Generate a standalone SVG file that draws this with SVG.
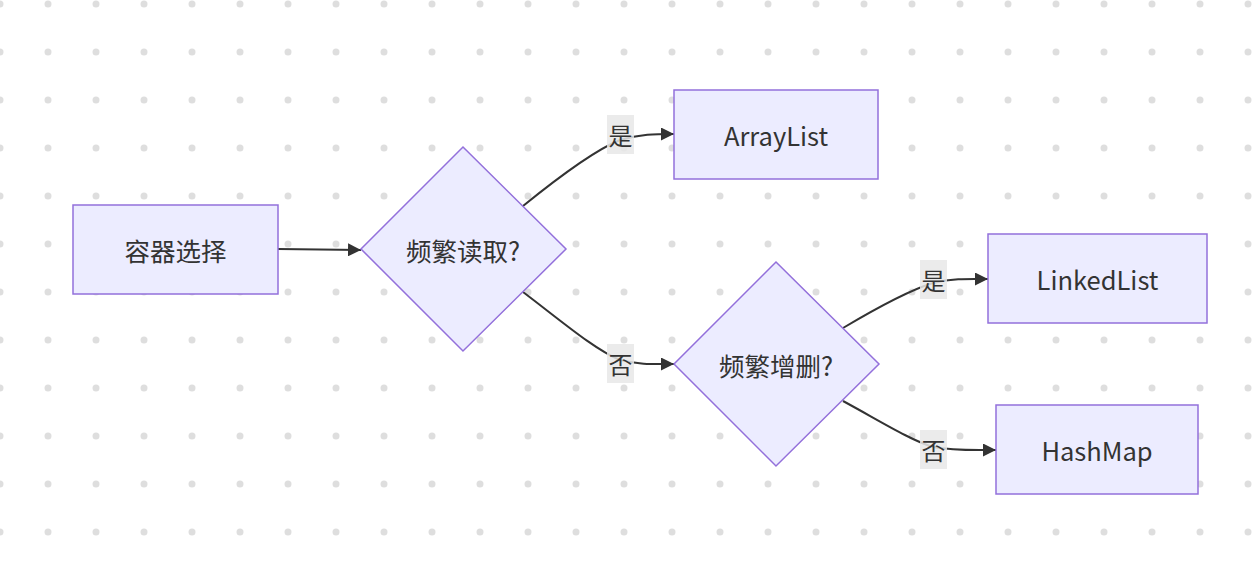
<svg xmlns="http://www.w3.org/2000/svg" width="1256" height="574" viewBox="0 0 1256 574">
<style>
.node rect, .node polygon { fill: #ECECFF; stroke: #9370DB; stroke-width: 1.5; }
.node text { font-family: "Noto Sans CJK SC", "Liberation Sans", sans-serif; font-size: 25.5px; fill: #333333; text-anchor: middle; dominant-baseline: central; }
.edge { fill: none; stroke: #333333; stroke-width: 2; }
.lbl rect { fill: #e8e8e8; opacity: 0.85; }
.lbl text { font-family: "Noto Sans CJK SC", sans-serif; font-size: 24px; fill: #333333; text-anchor: middle; dominant-baseline: central; }
</style>
<defs>
<pattern id="dots" x="0" y="4" width="48" height="48" patternUnits="userSpaceOnUse">
<circle cx="0" cy="0" r="3.5" fill="#dedede"/>
<circle cx="48" cy="0" r="3.5" fill="#dedede"/>
<circle cx="0" cy="48" r="3.5" fill="#dedede"/>
<circle cx="48" cy="48" r="3.5" fill="#dedede"/>
</pattern>
<marker id="arrow" viewBox="0 0 10 10" refX="10" refY="5" markerWidth="13" markerHeight="13" markerUnits="userSpaceOnUse" orient="auto">
<path d="M0,0 L10,5 L0,10 z" fill="#333333"/>
</marker>
</defs>
<rect width="1256" height="574" fill="#ffffff"/>
<rect width="1256" height="574" fill="url(#dots)"/>
<g id="connectors">
<path class="edge" d="M278,249 L361,250" marker-end="url(#arrow)"/>
<path class="edge" d="M523,206 C560,176 595,150 620,140 C640,134 655,134 674,134" marker-end="url(#arrow)"/>
<path class="edge" d="M523,292 C560,320 595,350 620,360 C640,365 655,364 674,364" marker-end="url(#arrow)"/>
<path class="edge" d="M843,328 C880,306 910,290 933,283 C955,278 970,279 988,279" marker-end="url(#arrow)"/>
<path class="edge" d="M843,401 C880,421 910,440 933,447 C955,451 972,450 996,450" marker-end="url(#arrow)"/>
<g class="lbl"><rect x="607" y="115" width="27" height="39"/><text x="620.5" y="134.5">是</text></g>
<g class="lbl"><rect x="607" y="344" width="27" height="39"/><text x="620.5" y="363.5">否</text></g>
<g class="lbl"><rect x="920" y="260" width="27" height="39"/><text x="933.5" y="279.5">是</text></g>
<g class="lbl"><rect x="920" y="430" width="27" height="39"/><text x="933.5" y="449.5">否</text></g>
</g>
<g id="node-container" class="node"><rect x="73" y="205" width="205" height="89"/><text x="175.5" y="249.5">容器选择</text></g>
<g id="node-read" class="node"><polygon points="463,147 566,249 463,351 361,249"/><text x="463" y="249">频繁读取?</text></g>
<g id="node-arraylist" class="node"><rect x="674" y="90" width="204" height="89"/><text x="776" y="134.5">ArrayList</text></g>
<g id="node-modify" class="node"><polygon points="776,262 879,364 776,466 674,364"/><text x="776" y="364">频繁增删?</text></g>
<g id="node-linkedlist" class="node"><rect x="988" y="234" width="219" height="89"/><text x="1097.5" y="278.5">LinkedList</text></g>
<g id="node-hashmap" class="node"><rect x="996" y="405" width="202" height="89"/><text x="1097" y="449.5">HashMap</text></g>
</svg>
